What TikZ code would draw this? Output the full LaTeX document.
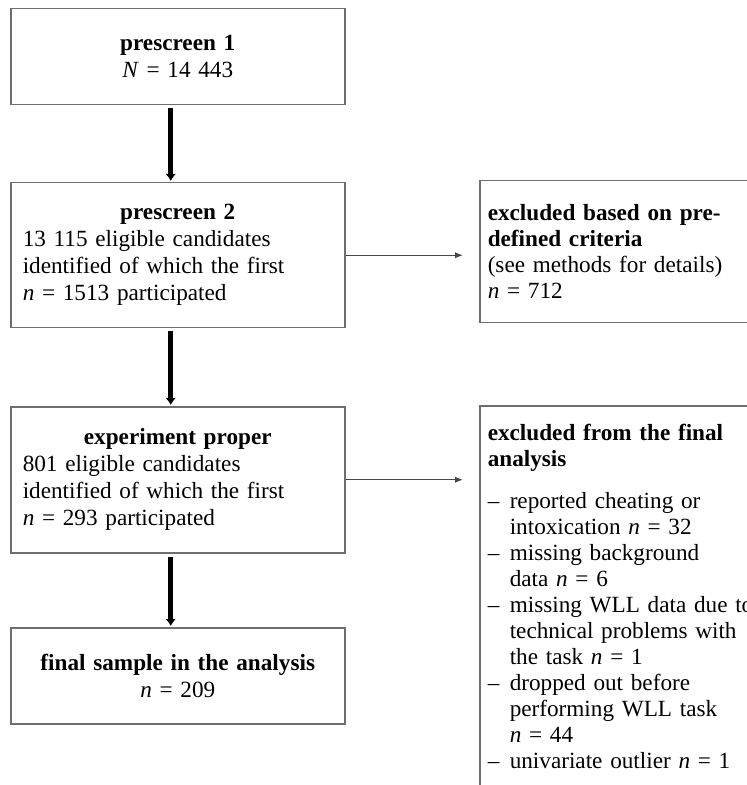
\documentclass[tikz,border=0pt]{standalone}
\usepackage{fontspec}
\setmainfont{Liberation Serif}
\usetikzlibrary{arrows.meta, positioning}

\newcommand{\itemdash}{\makebox[11pt][l]{--}}
\newcommand{\itemgap}{\hspace*{11pt}}
\newcommand{\stagetitle}[1]{\makebox[155pt]{\textbf{#1}}}

\begin{document}
\begin{tikzpicture}[x=0.5pt, y=-0.5pt, ->, >={Latex[length=4pt,width=3.2pt]}]
    \tikzstyle{stage} = [draw=black!57, line width=0.75pt, anchor=north west,
        minimum width=167pt, inner xsep=6pt, text width=155pt,
        font=\fontsize{11.6}{13.5}\selectfont]
    \tikzstyle{excl} = [draw=black!57, line width=0.75pt, anchor=north west,
        inner xsep=4pt, inner ysep=9pt, text width=150pt, align=left,
        font=\fontsize{11.6}{13}\selectfont]
    \tikzstyle{flow} = [line width=2.7pt, >={Latex[length=3.5pt,width=5.2pt]},
        shorten <=1.5pt, shorten >=0.5pt]
    \tikzstyle{side} = [draw=black!72, line width=0.7pt, shorten >=8pt]
    \useasboundingbox (0,0) rectangle (746,785);
    \node [stage, align=center, minimum height=48pt] (pre1) at (10,8)
        {\textbf{prescreen 1}\\\textit{N} = 14 443};
    \node [stage, align=left, minimum height=72.5pt] (pre2) at (10,182)
        {\stagetitle{prescreen 2}\\13 115 eligible candidates\\identified
        of which the first\\\textit{n} = 1513 participated};
    \node [stage, align=left, minimum height=73pt] (expt) at (10,406)
        {\stagetitle{experiment proper}\\801 eligible candidates\\identified
        of which the first\\\textit{n} = 293 participated};
    \node [stage, align=center, minimum height=48pt] (final) at (10,627)
        {\textbf{final sample in the analysis}\\\textit{n} = 209};
    \node [excl, minimum height=71pt] (exclcrit) at (479,180)
        {\textbf{excluded based on pre-}\\\textbf{defined criteria}\\(see methods
        for details)\\\textit{n} = 712};
    \node [excl] (exclfinal) at (479,405)
        {\textbf{excluded from the final}\\\textbf{analysis}\\[8pt]
        \itemdash reported cheating or\\\itemgap intoxication \textit{n} = 32\\
        \itemdash missing background\\\itemgap data \textit{n} = 6\\
        \itemdash missing WLL data due to\\\itemgap technical problems with\\
        \itemgap the task \textit{n} = 1\\
        \itemdash dropped out before\\\itemgap performing WLL task\\
        \itemgap \textit{n} = 44\\
        \itemdash univariate outlier \textit{n} = 1\par\vspace*{30pt}};
    \draw[flow] ([xshift=-3.5pt]pre1.south) -- ([xshift=-3.5pt]pre2.north);
    \draw[flow] ([xshift=-3.5pt]pre2.south) -- ([xshift=-3.5pt]expt.north);
    \draw[flow] ([xshift=-3.5pt]expt.south) -- ([xshift=-3.5pt]final.north);
    \draw[side] (pre2.east) -- (exclcrit.west |- pre2.east);
    \draw[side] (expt.east) -- (exclfinal.west |- expt.east);
\end{tikzpicture}
\end{document}
